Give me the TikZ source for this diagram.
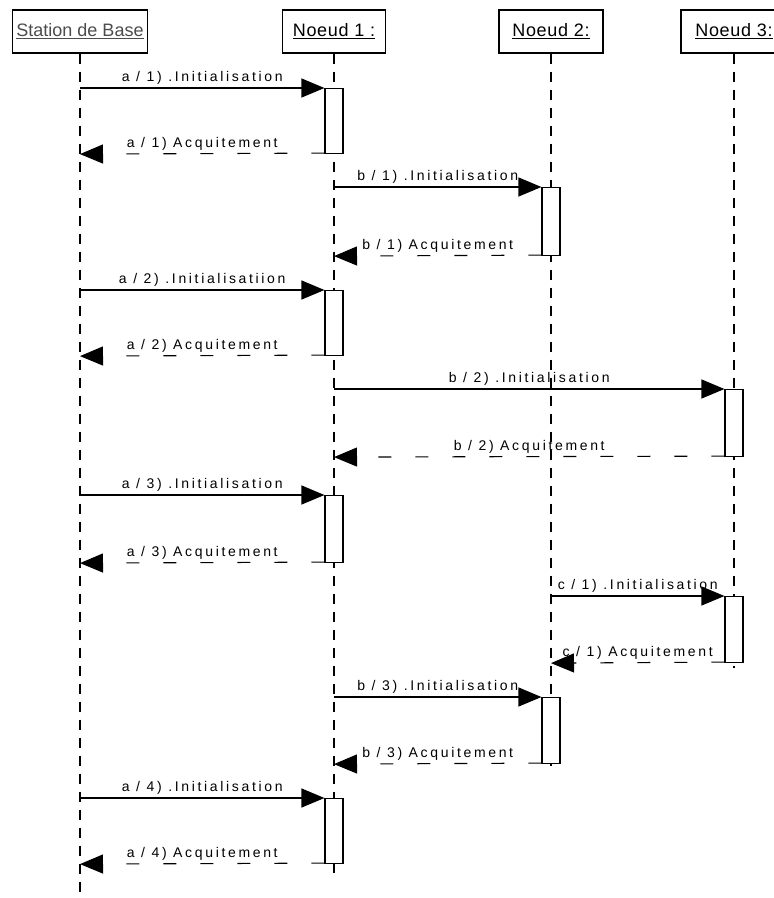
\documentclass[tikz,border=0pt]{standalone}
\usepackage{fontspec}
\setmainfont{Liberation Sans}
\newfontfamily\lblfont[LetterSpace=19]{Liberation Sans}
\newfontfamily\hdrfont[LetterSpace=4]{Liberation Sans}
\usetikzlibrary{arrows.meta}
\begin{document}
\begin{tikzpicture}[x=1pt,y=-1pt,
  hdr/.style={draw, line width=1.2pt, minimum height=43pt, inner sep=0pt, font=\hdrfont\fontsize{18}{20}\selectfont},
  life/.style={line width=1.1pt, dash pattern=on 10pt off 8pt},
  act/.style={draw, fill=white, line width=1.1pt, minimum width=18pt, inner sep=0pt, anchor=north},
  call/.style={line width=1.1pt, -{Triangle[length=23pt,width=19pt]}},
  ret/.style={call, dash pattern=on 13pt off 24pt},
  lbl/.style={font=\lblfont\fontsize{14}{16}\selectfont, anchor=base, inner sep=0pt}
]
\fill[white] (0,0) rectangle (774,898);
\useasboundingbox (0,0) rectangle (774,898);
\clip (0,0) rectangle (774,898);

% headers
\node[hdr, minimum width=135pt, font=\fontsize{18}{20}\selectfont] (S) at (80,31.5) {\textcolor{black!70}{\underline{Station de Base}}};
\node[hdr, minimum width=103pt] (N1) at (334,31.5) {\underline{Noeud 1 :}};
\node[hdr, minimum width=104pt] (N2) at (551,31.5) {\underline{Noeud 2:}};
\node[hdr, minimum width=106pt] (N3) at (734,31.5) {\underline{Noeud 3:}};

% lifeline ends
\coordinate (Se) at (80,895);
\coordinate (N1e) at (334,873);
\coordinate (N2e) at (551,770);
\coordinate (N3e) at (734,668);
\draw[life] (S.south) -- (Se);
\draw[life] (N1.south) -- (N1e);
\draw[life] (N2.south) -- (N2e);
\draw[life] (N3.south) -- (N3e);

% activation boxes
\node[act, minimum height=65pt] (a1) at (334,88) {};
\node[act, minimum height=68pt] (b1) at (551,187) {};
\node[act, minimum height=65pt] (a2) at (334,290) {};
\node[act, minimum height=67pt] (b2) at (734,389) {};
\node[act, minimum height=67pt] (a3) at (334,495) {};
\node[act, minimum height=66pt] (c1) at (734,596) {};
\node[act, minimum height=66pt] (b3) at (551,697) {};
\node[act, minimum height=65pt] (a4) at (334,798) {};

% messages
\draw[call] (S |- a1.north west) -- (a1.north west) node[lbl, midway, yshift=7pt] {a / 1) .Initialisation};
\draw[ret] ([yshift=1pt]a1.south west) -- (S |- a1.south west) node[lbl, midway, yshift=6pt] {a / 1) Acquitement};

\draw[call] (N1 |- b1.north west) -- (b1.north west) node[lbl, midway, yshift=7pt] {b / 1) .Initialisation};
\draw[ret] ([yshift=1pt]b1.south west) -- (N1 |- b1.south west) node[lbl, midway, yshift=6pt] {b / 1) Acquitement};

\draw[call] (S |- a2.north west) -- (a2.north west) node[lbl, midway, yshift=7pt] {a / 2) .Initialisatiion};
\draw[ret] ([yshift=1pt]a2.south west) -- (S |- a2.south west) node[lbl, midway, yshift=6pt] {a / 2) Acquitement};

\draw[call] (N1 |- b2.north west) -- (b2.north west) node[lbl, midway, yshift=7pt] {b / 2) .Initialisation};
\draw[ret] ([yshift=1pt]b2.south west) -- (N1 |- b2.south west) node[lbl, midway, yshift=6pt] {b / 2) Acquitement};

\draw[call] (S |- a3.north west) -- (a3.north west) node[lbl, midway, yshift=7pt] {a / 3) .Initialisation};
\draw[ret] ([yshift=1pt]a3.south west) -- (S |- a3.south west) node[lbl, midway, yshift=6pt] {a / 3) Acquitement};

\draw[call] (N2 |- c1.north west) -- (c1.north west) node[lbl, midway, yshift=7pt] {c / 1) .Initialisation};
\draw[ret] ([yshift=1pt]c1.south west) -- (N2 |- c1.south west) node[lbl, midway, yshift=6pt] {c / 1) Acquitement};

\draw[call] (N1 |- b3.north west) -- (b3.north west) node[lbl, midway, yshift=7pt] {b / 3) .Initialisation};
\draw[ret] ([yshift=1pt]b3.south west) -- (N1 |- b3.south west) node[lbl, midway, yshift=6pt] {b / 3) Acquitement};

\draw[call] (S |- a4.north west) -- (a4.north west) node[lbl, midway, yshift=7pt] {a / 4) .Initialisation};
\draw[ret] ([yshift=1pt]a4.south west) -- (S |- a4.south west) node[lbl, midway, yshift=6pt] {a / 4) Acquitement};
\end{tikzpicture}
\end{document}
